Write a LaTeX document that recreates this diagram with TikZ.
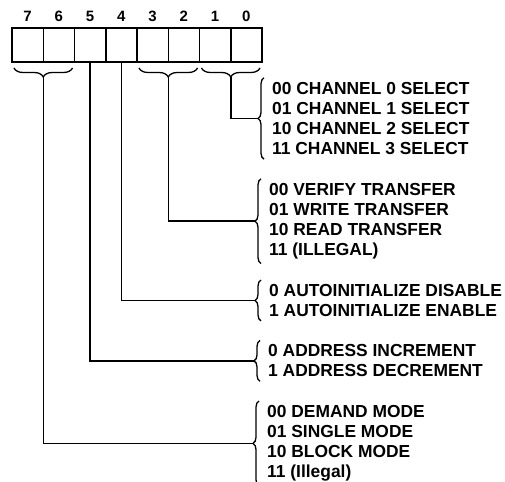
\documentclass[tikz,border=0pt]{standalone}
\usepackage{fontspec}
\setmainfont{Liberation Sans}
\usetikzlibrary{positioning,calc,decorations.pathreplacing}
\tikzset{
  cell/.style={draw,line width=1.5pt,minimum width=31.25pt,minimum height=34pt,
    inner sep=0pt,outer sep=0pt},
  frame/.style={draw,line width=2.8pt},
  bitno/.style={font=\fontsize{15}{17}\selectfont\bfseries,inner sep=0pt},
  grp/.style={font=\fontsize{17.4}{20.2}\selectfont\bfseries,align=left,
    inner sep=0pt,anchor=north west},
  brc/.style={decorate,decoration={brace,amplitude=6pt},line width=1.3pt},
  ubrc/.style={decorate,decoration={brace,amplitude=9pt},line width=1.3pt},
  wire/.style={line width=1.5pt},
}

\begin{document}
\begin{tikzpicture}[x=1pt,y=-1pt]
  \useasboundingbox (0,0) rectangle (505,481);
  % ---- the mode register: bits 7..0 ----
  \foreach \b in {0,...,7}
    \node[cell] (c\b) at ({12+31.25*(7-\b)+15.625},45) {};
  \foreach \b in {0,...,7}
    \node[bitno,above=6pt of c\b] (n\b) {\b};
  \draw[frame] (c7.north west) rectangle (c0.south east);
  % ---- braces under the bit pairs ----
  \draw[ubrc] ([xshift=-2pt,yshift=-6pt]c6.south east) -- ([xshift=2pt,yshift=-6pt]c7.south west);
  \draw[ubrc] ([xshift=-2pt,yshift=-6pt]c2.south east) -- ([xshift=2pt,yshift=-6pt]c3.south west);
  \draw[ubrc] ([xshift=-2pt,yshift=-6pt]c0.south east) -- ([xshift=2pt,yshift=-6pt]c1.south west);
  \coordinate (u76) at ([yshift=-15pt]c7.south east);
  \coordinate (u32) at ([yshift=-15pt]c3.south east);
  \coordinate (u10) at ([yshift=-15pt]c1.south east);
  % ---- the field codes ----
  \node[grp] (g1) at (272,81.8) {00 CHANNEL 0 SELECT\\01 CHANNEL 1 SELECT\\
    10 CHANNEL 2 SELECT\\11 CHANNEL 3 SELECT};
  \node[grp] (g2) at (269,182.8) {00 VERIFY TRANSFER\\01 WRITE TRANSFER\\
    10 READ TRANSFER\\11 (ILLEGAL)};
  \node[grp] (g3) at (269,284) {0 AUTOINITIALIZE DISABLE\\1 AUTOINITIALIZE ENABLE};
  \node[grp] (g4) at (268,344.4) {0 ADDRESS INCREMENT\\1 ADDRESS DECREMENT};
  \node[grp] (g5) at (267,405) {00 DEMAND MODE\\01 SINGLE MODE\\
    10 BLOCK MODE\\11 (Illegal)};
  \foreach \g in {g1,g2,g3,g4,g5}
    \draw[brc] ([xshift=-8pt,yshift=-4pt]\g.south west) -- ([xshift=-8pt,yshift=4pt]\g.north west);
  % ---- leads from the bits to the codes ----
  \draw[wire] (u10) |- ([xshift=-14pt]g1.west);
  \draw[wire] (u32) |- ([xshift=-14pt]g2.west);
  \draw[wire] (c4.south) |- ([xshift=-14pt]g3.west);
  \draw[wire] (c5.south) |- ([xshift=-14pt]g4.west);
  \draw[wire] (u76) |- ([xshift=-14pt]g5.west);
\end{tikzpicture}
\end{document}
